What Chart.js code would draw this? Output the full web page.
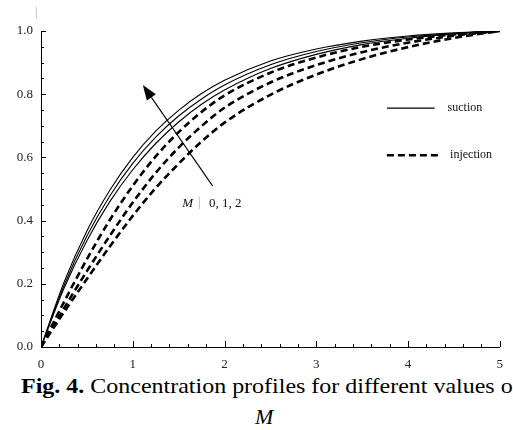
<!DOCTYPE html>
<html>
<head>
<meta charset="utf-8">
<script src="https://cdn.jsdelivr.net/npm/chart.js@4.4.1/dist/chart.umd.min.js"></script>
<style>
  html,body{margin:0;padding:0;background:#fff;}
  #wrap{position:relative;width:513px;height:430px;overflow:hidden;font-family:'Liberation Serif','Times New Roman',serif;color:#000;}
  #chartBox{position:absolute;left:0;top:0;width:513px;height:372px;}
  .cap{position:absolute;left:21px;top:374px;font-size:22px;line-height:24px;white-space:nowrap;transform:scaleX(1.09);transform-origin:left top;}
  .cap b{font-weight:bold;}
  .cap2{position:absolute;left:255px;top:405px;font-size:22px;line-height:24px;font-style:italic;}
  .stray{position:absolute;left:35px;top:5px;font-size:12px;color:#aaa;}
</style>
</head>
<body>
<div id="wrap">
  <div id="chartBox"><canvas id="concChart"></canvas></div>
  <div class="stray">|</div>
  <div class="cap"><b>Fig. 4.</b> Concentration profiles for different values o</div>
  <div class="cap2">M</div>
</div>
<script>
/* ── DATA ───────────────────────────────────────────────── */
const etaValues   = [0, 0.25, 0.5, 0.75, 1, 1.25, 1.5, 1.75, 2, 2.5, 3, 3.5, 4, 4.5, 5];

// suction, M = 0, 1, 2 (solid)
const suctionM0   = [0, 0.185, 0.336, 0.460, 0.561, 0.644, 0.712, 0.768, 0.813, 0.881, 0.926, 0.957, 0.977, 0.991, 1];
const suctionM1   = [0, 0.194, 0.351, 0.478, 0.581, 0.664, 0.731, 0.785, 0.829, 0.893, 0.935, 0.963, 0.981, 0.992, 1];
const suctionM2   = [0, 0.204, 0.367, 0.496, 0.600, 0.683, 0.749, 0.802, 0.844, 0.905, 0.943, 0.968, 0.984, 0.994, 1];

// injection, M = 0, 1, 2 (dashed)
const injectionM0 = [0, 0.110, 0.215, 0.318, 0.415, 0.503, 0.580, 0.650, 0.710, 0.798, 0.862, 0.911, 0.949, 0.978, 1];
const injectionM1 = [0, 0.122, 0.240, 0.352, 0.457, 0.551, 0.631, 0.699, 0.757, 0.837, 0.892, 0.933, 0.963, 0.985, 1];
const injectionM2 = [0, 0.142, 0.278, 0.402, 0.510, 0.603, 0.680, 0.744, 0.796, 0.868, 0.916, 0.950, 0.973, 0.989, 1];

const xTicks = [0, 1, 2, 3, 4, 5];
const yTicks = [0, 0.2, 0.4, 0.6, 0.8, 1.0];

const labelM      = 'M';
const labelMVals  = '0, 1, 2';
const legendItems = ['suction', 'injection'];

// arrow and label anchors, in data units
const arrowTail = {x: 1.87, y: 0.51};
const arrowHead = {x: 1.11, y: 0.829};
const mLabelPos = {x: 1.54, y: 0.455};

/* ── helpers ────────────────────────────────────────────── */
const toPts = arr => etaValues.map((e, i) => ({x: e, y: arr[i]}));
const SERIF = "'Liberation Serif','Times New Roman',serif";
const DASH  = [7, 4];

function solidSet(arr){
  return { data: toPts(arr), borderColor:'#000', borderWidth:1.1, pointRadius:0, fill:false, cubicInterpolationMode:'monotone' };
}
function dashSet(arr){
  return { data: toPts(arr), borderColor:'#000', borderWidth:2.6, borderDash:DASH, borderCapStyle:'butt', pointRadius:0, fill:false, cubicInterpolationMode:'monotone' };
}

/* ── overlay: inward ticks, arrow, labels, legend ───────── */
const overlay = {
  id:'overlay',
  afterDraw(chart){
    const {ctx, scales:{x, y}} = chart;
    const L = x.left, B = y.bottom;
    ctx.save();
    ctx.strokeStyle = '#000';
    ctx.lineWidth = 1;

    // y ticks every 0.05, major every 0.2
    for(let i = 0; i <= 20; i++){
      const py = Math.round(y.getPixelForValue(i * 0.05)) + 0.5;
      const len = i % 4 === 0 ? 5 : 3;
      ctx.beginPath(); ctx.moveTo(L, py); ctx.lineTo(L + len, py); ctx.stroke();
    }
    // x ticks every 0.2, major every 1
    for(let i = 0; i <= 25; i++){
      const px = Math.round(x.getPixelForValue(i * 0.2)) + 0.5;
      const len = i % 5 === 0 ? 6 : 3;
      ctx.beginPath(); ctx.moveTo(px, B); ctx.lineTo(px, B - len); ctx.stroke();
    }

    // arrow
    const tx = x.getPixelForValue(arrowTail.x), ty = y.getPixelForValue(arrowTail.y);
    const hx = x.getPixelForValue(arrowHead.x), hy = y.getPixelForValue(arrowHead.y);
    const ang = Math.atan2(hy - ty, hx - tx);
    const hl = 15, hw = 5.5;
    const bx = hx - hl * Math.cos(ang), by = hy - hl * Math.sin(ang);
    ctx.lineWidth = 1.1;
    ctx.beginPath(); ctx.moveTo(tx, ty); ctx.lineTo(bx, by); ctx.stroke();
    ctx.beginPath();
    ctx.moveTo(hx, hy);
    ctx.lineTo(bx + hw * Math.sin(ang), by - hw * Math.cos(ang));
    ctx.lineTo(bx - hw * Math.sin(ang), by + hw * Math.cos(ang));
    ctx.closePath(); ctx.fillStyle = '#000'; ctx.fill();

    // "M | 0, 1, 2"
    let mx = x.getPixelForValue(mLabelPos.x), my = y.getPixelForValue(mLabelPos.y);
    ctx.textBaseline = 'middle';
    ctx.font = `italic 13px ${SERIF}`;
    ctx.fillStyle = '#111';
    ctx.fillText(labelM, mx, my);
    mx += ctx.measureText(labelM).width + 5;
    ctx.font = `12px ${SERIF}`;
    ctx.fillStyle = '#999';
    ctx.fillText('|', mx, my);
    ctx.fillStyle = '#111';
    ctx.font = `13px ${SERIF}`;
    ctx.fillText(labelMVals, mx + 11, my);

    // legend
    const lx0 = x.getPixelForValue(3.77), lx1 = x.getPixelForValue(4.29), lx2 = x.getPixelForValue(4.35);
    const ly0 = y.getPixelForValue(0.756), ly1 = y.getPixelForValue(0.607);
    ctx.strokeStyle = '#000';
    ctx.lineWidth = 1.1;
    ctx.beginPath(); ctx.moveTo(lx0, ly0); ctx.lineTo(lx1, ly0); ctx.stroke();
    ctx.lineWidth = 2.6; ctx.setLineDash(DASH);
    ctx.beginPath(); ctx.moveTo(lx0, ly1); ctx.lineTo(lx1 + 5, ly1); ctx.stroke();
    ctx.setLineDash([]);
    ctx.font = `12px ${SERIF}`;
    ctx.fillStyle = '#111';
    ctx.fillText(legendItems[0], lx1 + 13, ly0);
    ctx.fillText(legendItems[1], lx2 + 10, ly1);
    ctx.restore();
  }
};

/* ── CHART ──────────────────────────────────────────────── */
new Chart(document.getElementById('concChart'), {
  type:'line',
  data:{
    datasets:[
      solidSet(suctionM0), solidSet(suctionM1), solidSet(suctionM2),
      dashSet(injectionM0), dashSet(injectionM1), dashSet(injectionM2)
    ]
  },
  options:{
    responsive:true, maintainAspectRatio:false, animation:false,
    layout:{padding:{top:31, right:11, left:0, bottom:0}},
    plugins:{legend:{display:false}, tooltip:{enabled:false}},
    scales:{
      x:{
        type:'linear', min:0, max:5,
        afterFit: s => { s.height = 25; },
        afterBuildTicks: s => { s.ticks = xTicks.map(v => ({value:v})); },
        grid:{display:false, drawTicks:false},
        border:{display:true, color:'#000', width:1},
        ticks:{padding:10, color:'#222', font:{family:SERIF, size:13}, callback:v => String(v)}
      },
      y:{
        min:0, max:1,
        afterFit: s => { s.width = 41; },
        afterBuildTicks: s => { s.ticks = yTicks.map(v => ({value:v})); },
        grid:{display:false, drawTicks:false},
        border:{display:true, color:'#000', width:1},
        ticks:{padding:8, color:'#222', font:{family:SERIF, size:13}, callback:v => v.toFixed(1)}
      }
    }
  },
  plugins:[overlay]
});
</script>
</body>
</html>
